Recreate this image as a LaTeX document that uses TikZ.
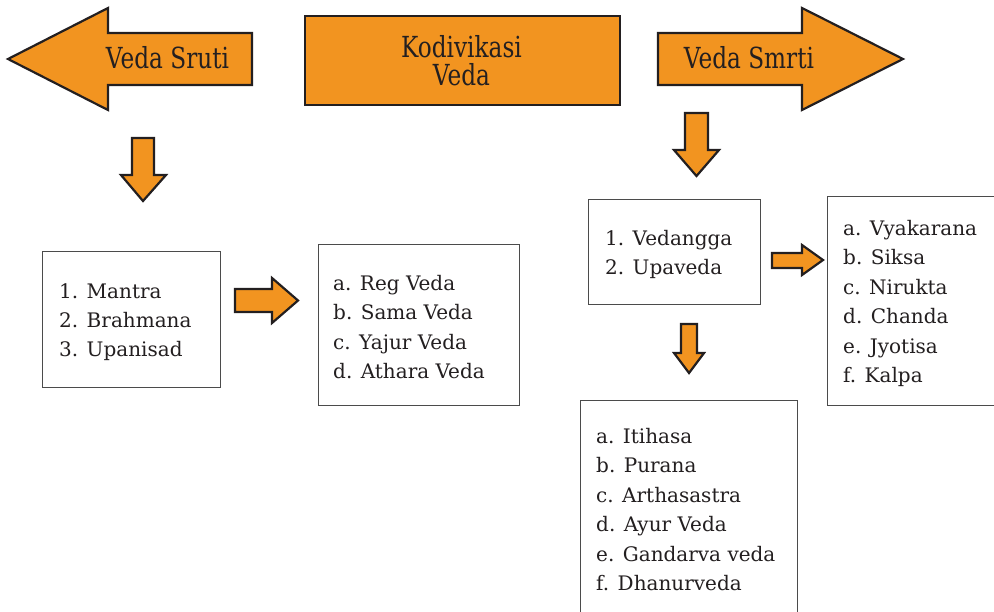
\documentclass[tikz,border=0pt]{standalone}
\usepackage{fontspec}
\setmainfont{DejaVu Serif}
\newfontfamily\headfont[FakeStretch=0.8]{DejaVu Serif}
\definecolor{vorange}{RGB}{242,148,32}
\definecolor{vdark}{RGB}{35,31,32}
\definecolor{vgray}{RGB}{75,75,75}
\begin{document}
\begin{tikzpicture}[x=1pt,y=-1pt,
  blockarrow/.style={fill=vorange, draw=vdark, line width=2.2pt, line join=miter},
  listbox/.style={draw=vgray, line width=1.3pt, fill=white, inner sep=0pt, anchor=north west},
  listtext/.style={anchor=north west, inner sep=0pt, align=left, text=vdark, font=\fontsize{20}{29.4}\selectfont},
  headtext/.style={inner sep=0pt, anchor=base, text=vdark, font=\headfont\fontsize{29}{27}\selectfont},
]
\useasboundingbox (0,0) rectangle (994,611);
\clip (0,0) rectangle (994,611);

% big arrows and title box
\draw[blockarrow] (8,59) -- (108,8) -- (108,33) -- (252,33) -- (252,85) -- (108,85) -- (108,110) -- cycle;
\draw[blockarrow] (658,33) -- (802,33) -- (802,8) -- (903,59) -- (802,110) -- (802,85) -- (658,85) -- cycle;
\node[blockarrow, line width=2pt, minimum width=315pt, minimum height=89pt, anchor=north west, inner sep=0pt] (kod) at (304,15) {};

\node[headtext] (sruti) at (167.5,68) {Veda Sruti};
\node[headtext] (smrti) at (749,68) {Veda Smrti};
\node[headtext, text depth=0pt] (kodt1) at (461.5,57.5) {Kodivikasi};
\node[headtext, text height=22pt] (kodt2) at (461.5,85.5) {Veda};

% small block arrows
\draw[blockarrow] (132,138) -- (154,138) -- (154,175) -- (166,175) -- (143,201) -- (121,175) -- (132,175) -- cycle;
\draw[blockarrow] (685,113) -- (708,113) -- (708,150) -- (719,150) -- (696.5,176) -- (674,150) -- (685,150) -- cycle;
\draw[blockarrow] (235,289) -- (272,289) -- (272,278) -- (298,300.5) -- (272,323) -- (272,312) -- (235,312) -- cycle;
\draw[blockarrow] (772,253) -- (802,253) -- (802,245) -- (823,260) -- (802,275) -- (802,268) -- (772,268) -- cycle;
\draw[blockarrow] (681,324) -- (697,324) -- (697,353) -- (704,353) -- (689,373) -- (674,353) -- (681,353) -- cycle;

% list boxes
\node[listbox, minimum width=178pt, minimum height=136pt] (b1) at (42,251) {};
\node[listbox, minimum width=201pt, minimum height=161pt] (b2) at (318,244) {};
\node[listbox, minimum width=172pt, minimum height=105pt] (b3) at (588,199) {};
\node[listbox, minimum width=200pt, minimum height=209pt] (b4) at (827,196) {};
\node[listbox, minimum width=217pt, minimum height=240pt] (b5) at (580,400) {};

\node[listtext] (t1) at (59,283) {1. Mantra\\2. Brahmana\\3. Upanisad};
\node[listtext] (t2) at (333,275) {a. Reg Veda\\b. Sama Veda\\c. Yajur Veda\\d. Athara Veda};
\node[listtext] (t3) at (605,230) {1. Vedangga\\2. Upaveda};
\node[listtext] (t4) at (843,220) {a. Vyakarana\\b. Siksa\\c. Nirukta\\d. Chanda\\e. Jyotisa\\f. Kalpa};
\node[listtext] (t5) at (596,428) {a. Itihasa\\b. Purana\\c. Arthasastra\\d. Ayur Veda\\e. Gandarva veda\\f. Dhanurveda};
\end{tikzpicture}
\end{document}
